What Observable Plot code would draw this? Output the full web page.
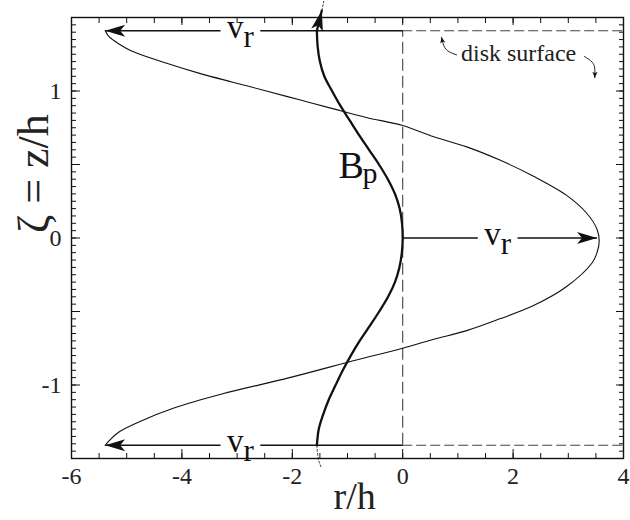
<!DOCTYPE html>
<html>
<head>
<meta charset="utf-8">
<script src="https://cdn.jsdelivr.net/npm/d3@7"></script>
<script src="https://cdn.jsdelivr.net/npm/@observablehq/plot@0.6"></script>
<style>
  body { margin: 0; background: #fff; }
  #chart svg { display: block; }
</style>
</head>
<body>
<div id="chart"></div>
<script>
// Radial velocity v_r and poloidal field line B_p across the disk thickness ζ = z/h

// v_r profile (r/h) sampled along ζ, from the upper to the lower surface
const vrZeta = [1.41, 1.37, 1.32, 1.27, 1.19, 1.12, 1.06, 1.0, 0.94, 0.88, 0.82, 0.765, 0.69, 0.62, 0.53, 0.42, 0.29, 0.17, 0.06, -0.02,
                -0.1, -0.17, -0.33, -0.46, -0.55, -0.63, -0.69, -0.75, -0.83, -0.95, -1.06, -1.16, -1.25, -1.32, -1.38, -1.41];
const vrX    = [-5.39, -5.32, -5.14, -4.9, -4.29, -3.68, -3.08, -2.47, -1.87, -1.27, -0.66, 0.0, 0.55, 1.16, 1.76, 2.37, 2.97, 3.33, 3.52, 3.56,
                3.52, 3.43, 2.97, 2.37, 1.76, 1.16, 0.55, 0.0, -0.84, -2.05, -3.26, -4.17, -4.77, -5.14, -5.32, -5.39];

// B_p field line (r/h) along ζ
const bpZeta = [1.41, 1.3, 1.2, 1.1, 1.0, 0.9, 0.8, 0.7, 0.6, 0.5, 0.4, 0.3, 0.2, 0.1, 0.0,
                -0.1, -0.2, -0.3, -0.4, -0.5, -0.6, -0.7, -0.8, -0.9, -1.0, -1.1, -1.2, -1.3, -1.41];
const bpX    = [-1.555, -1.54, -1.5, -1.42, -1.28, -1.13, -0.96, -0.79, -0.61, -0.43, -0.27, -0.14, -0.055, -0.012, 0.0,
                -0.015, -0.06, -0.14, -0.265, -0.425, -0.6, -0.78, -0.94, -1.085, -1.215, -1.34, -1.44, -1.52, -1.555];

// field line continued beyond the disk surfaces
const bpTopZeta = [1.41, 1.547];
const bpTopX    = [-1.555, -1.465];
const bpOutTopZeta = [1.547, 1.61];
const bpOutTopX    = [-1.465, -1.43];
const bpOutBotZeta = [-1.41, -1.5, -1.56];
const bpOutBotX    = [-1.555, -1.53, -1.475];

// v_r arrows: height ζ, arrow tip r/h, label position r/h
const vrArrowZeta = [1.41, 0, -1.41];
const vrArrowTip  = [-5.39, 3.52, -5.39];
const vrLabelX    = [-2.94, 1.72, -2.94];

// disk surfaces
const surfaceZeta = [1.41, -1.41];

// axis ticks
const xTickLabels = [-6, -4, -2, 0, 2, 4];
const yTickLabels = [-1, 0, 1];
const xMinorTicks = d3.range(-12, 9).map(i => i / 2);
const yMinorTicks = d3.range(-30, 31).map(i => i / 20);
const yMajorTicks = [-1.5, -1, -0.5, 0, 0.5, 1, 1.5];

// "disk surface" annotation and its pointers
const noteLabel = [{x: 2.1, z: 1.204, text: "disk surface"}];
const notePointers = [
  {k: "a", x: 0.975, z: 1.246}, {k: "a", x: 0.806, z: 1.276}, {k: "a", x: 0.734, z: 1.321}, {k: "a", x: 0.703, z: 1.366},
  {k: "b", x: 3.293, z: 1.235}, {k: "b", x: 3.433, z: 1.196}, {k: "b", x: 3.48, z: 1.151}, {k: "b", x: 3.48, z: 1.09}
];

const W = 630, H = 520, mL = 71, mR = 7, mT = 17, mB = 62;
const frameW = W - mL - mR, frameH = H - mT - mB;
const serif = "Liberation Serif";
const ink = "#111";
const gap = 0.36; // half-width of the opening left in each arrow for its label

const vrCurve = vrZeta.map((z, i) => ({z, x: vrX[i]}));
const bpCurve = bpZeta.map((z, i) => ({z, x: bpX[i]}));
const bpTop = bpTopZeta.map((z, i) => ({z, x: bpTopX[i]}));
const bpOutTop = bpOutTopZeta.map((z, i) => ({z, x: bpOutTopX[i]}));
const bpOutBot = bpOutBotZeta.map((z, i) => ({z, x: bpOutBotX[i]}));
const arrows = vrArrowZeta.map((z, i) => ({z, tip: vrArrowTip[i], label: vrLabelX[i], s: Math.sign(vrArrowTip[i])}));
const arrowTails = arrows.map(a => ({z: a.z, x1: 0, x2: a.label - a.s * gap}));
const arrowHeads = arrows.map(a => ({z: a.z, x1: a.label + a.s * gap, x2: a.tip}));

const txt = {fontFamily: serif};

const svg = Plot.plot({
  width: W, height: H,
  marginLeft: mL, marginRight: mR, marginTop: mT, marginBottom: mB,
  x: {domain: [-6, 4], axis: null},
  y: {domain: [-1.5, 1.5], axis: null},
  marks: [
    // inward ticks on all four sides
    Plot.tickX(xMinorTicks, {x: d => d, insetTop: frameH - 5, stroke: ink}),
    Plot.tickX(xTickLabels, {x: d => d, insetTop: frameH - 9, stroke: ink}),
    Plot.tickX(xMinorTicks, {x: d => d, insetBottom: frameH - 6, stroke: ink}),
    Plot.tickX(xTickLabels, {x: d => d, insetBottom: frameH - 8, stroke: ink}),
    Plot.tickY(yMinorTicks, {y: d => d, insetRight: frameW - 5, stroke: ink}),
    Plot.tickY(yMajorTicks, {y: d => d, insetRight: frameW - 9, stroke: ink}),
    Plot.tickY(yMinorTicks, {y: d => d, insetLeft: frameW - 4, stroke: ink}),
    Plot.tickY(yMajorTicks, {y: d => d, insetLeft: frameW - 7, stroke: ink}),
    Plot.frame({stroke: ink, strokeWidth: 1.4}),

    // tick labels
    Plot.text(xTickLabels, {...txt, x: d => d, text: d => String(d), frameAnchor: "bottom", dy: 25, lineAnchor: "bottom", fontSize: 24, fill: "#222"}),
    Plot.text(yTickLabels, {...txt, y: d => d, text: d => String(d), frameAnchor: "left", dx: -10, textAnchor: "end", lineAnchor: "middle", fontSize: 24, fill: "#222"}),

    // axis titles
    Plot.text(["r/h"], {...txt, x: -0.87, frameAnchor: "bottom", dy: 50, lineAnchor: "bottom", fontSize: 38, fill: "#222"}),
    Plot.text(["ζ = z/h"], {...txt, frameAnchor: "left", dx: -24, dy: -5, rotate: -90, lineAnchor: "bottom", fontSize: 44, fill: "#222"}),

    // disk mid-plane marker and surfaces
    Plot.ruleX([0], {y1: surfaceZeta[1], y2: surfaceZeta[0], stroke: "#444", strokeWidth: 1.1, strokeDasharray: "12,5"}),
    Plot.ruleY(surfaceZeta, {y: d => d, x1: 0, x2: 4, stroke: "#444", strokeWidth: 1.1, strokeDasharray: "10,4"}),

    // v_r profile
    Plot.line(vrCurve, {x: "x", y: "z", curve: "catmull-rom", stroke: ink, strokeWidth: 1.1}),

    // v_r arrows, opened around their labels
    Plot.link(arrowTails, {x1: "x1", x2: "x2", y1: "z", y2: "z", stroke: ink, strokeWidth: 1.3}),
    Plot.link(arrowHeads, {x1: "x1", x2: "x2", y1: "z", y2: "z", stroke: ink, strokeWidth: 1.3, ariaLabel: () => "vr-arrow"}),
    Plot.text(arrows, {...txt, x: "label", y: "z", text: () => "v", textAnchor: "end", dx: 3, dy: 7, lineAnchor: "bottom", fontSize: 33, fill: ink}),
    Plot.text(arrows, {...txt, x: "label", y: "z", text: () => "r", textAnchor: "start", dx: 3, dy: 16, lineAnchor: "bottom", fontSize: 31, fill: ink}),

    // B_p field line
    Plot.line(bpCurve, {x: "x", y: "z", curve: "catmull-rom", stroke: ink, strokeWidth: 2.3}),
    Plot.line(bpTop, {x: "x", y: "z", stroke: ink, strokeWidth: 2.3, ariaLabel: () => "bp-arrow"}),
    Plot.line(bpOutTop, {x: "x", y: "z", stroke: ink, strokeWidth: 0.8, strokeDasharray: "2,2"}),
    Plot.line(bpOutBot, {x: "x", y: "z", curve: "natural", stroke: ink, strokeWidth: 0.8, strokeDasharray: "2,2"}),
    Plot.text(["B"], {...txt, x: -1.163, y: 0.41, textAnchor: "start", lineAnchor: "bottom", fontSize: 38, fill: ink}),
    Plot.text(["p"], {...txt, x: -1.163, y: 0.41, textAnchor: "start", dx: 24, dy: 5, lineAnchor: "bottom", fontSize: 30, fill: ink}),

    // disk surface annotation
    Plot.text(noteLabel, {...txt, x: "x", y: "z", text: "text", lineAnchor: "bottom", fontSize: 24, fill: "#222"}),
    Plot.line(notePointers, {x: "x", y: "z", z: "k", curve: "natural", stroke: ink, strokeWidth: 0.9, ariaLabel: () => "note-arrow"})
  ]
});

// filled arrowheads
const ns = "http://www.w3.org/2000/svg";
const defs = document.createElementNS(ns, "defs");
function head(id, len, half, notch) {
  const m = document.createElementNS(ns, "marker");
  m.setAttribute("id", id);
  m.setAttribute("viewBox", `${-len} ${-half} ${len} ${2 * half}`);
  m.setAttribute("refX", "0");
  m.setAttribute("refY", "0");
  m.setAttribute("markerWidth", len);
  m.setAttribute("markerHeight", 2 * half);
  m.setAttribute("markerUnits", "userSpaceOnUse");
  m.setAttribute("orient", "auto");
  m.setAttribute("overflow", "visible");
  const p = document.createElementNS(ns, "path");
  p.setAttribute("d", `M0,0L${-len},${-half}L${-len + notch},0L${-len},${half}Z`);
  p.setAttribute("fill", ink);
  m.appendChild(p);
  defs.appendChild(m);
}
head("vr-head", 20, 6, 5);
head("bp-head", 20, 6, 5);
head("note-head", 6, 2.6, 1.5);
svg.insertBefore(defs, svg.firstChild);
function attachHead(label, id) {
  svg.querySelectorAll(`[aria-label="${label}"]`).forEach(el => {
    const paths = el.tagName.toLowerCase() === "path" ? [el] : el.querySelectorAll("path");
    paths.forEach(p => p.setAttribute("marker-end", `url(#${id})`));
  });
}
attachHead("vr-arrow", "vr-head");
attachHead("bp-arrow", "bp-head");
attachHead("note-arrow", "note-head");
svg.setAttribute("font-family", serif);

document.getElementById("chart").appendChild(svg);
</script>
</body>
</html>
